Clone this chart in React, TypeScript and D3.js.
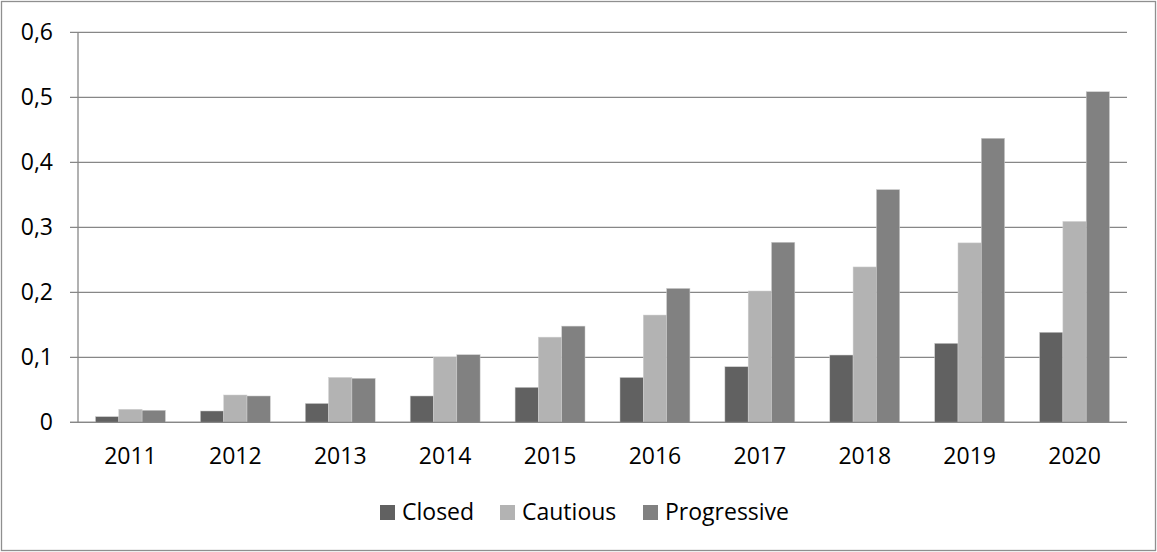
import React, { useEffect } from "react";
import * as d3 from "d3";

const years = ["2011", "2012", "2013", "2014", "2015", "2016", "2017", "2018", "2019", "2020"];
const closed = [0.0087, 0.0174, 0.029, 0.0405, 0.0538, 0.069, 0.0855, 0.1035, 0.1215, 0.1385];
const cautious = [0.02, 0.042, 0.069, 0.0994, 0.131, 0.165, 0.202, 0.239, 0.276, 0.309];
const progressive = [0.0185, 0.0405, 0.0677, 0.104, 0.148, 0.206, 0.277, 0.358, 0.437, 0.5086];
const yTicks = [0, 0.1, 0.2, 0.3, 0.4, 0.5, 0.6];
const seriesNames = ["Closed", "Cautious", "Progressive"];
const seriesColors = ["#616161", "#b3b3b3", "#818181"];

const W = 1157;
const H = 552;
const FONT = "'Open Sans', 'Noto Sans', sans-serif";

export default function App() {
  useEffect(() => {
    document.body.style.margin = "0";
  }, []);

  const left = 78;
  const right = 1127;
  const top = 32.3;
  const bottom = 422.3;

  const x = d3.scaleBand<string>().domain(years).range([left, right]).paddingInner(0).paddingOuter(0);
  const inner = d3
    .scaleBand<number>()
    .domain([0, 1, 2])
    .range([0, x.bandwidth()])
    .paddingOuter(0.75)
    .paddingInner(0);
  const y = d3.scaleLinear().domain([0, 0.6]).range([bottom, top]);
  const series = [closed, cautious, progressive];
  const fmt = (v: number) => (v === 0 ? "0" : d3.format(".1f")(v).replace(".", ","));

  const legendItems = [
    { sq: 380, tx: 402 },
    { sq: 500, tx: 522 },
    { sq: 643, tx: 665 },
  ];

  return (
    <svg width={W} height={H} style={{ display: "block" }} fontFamily={FONT}>
      <rect x={0} y={0} width={W} height={H} fill="#fff" />
      <rect x={1.5} y={1.5} width={W - 3} height={H - 3} fill="none" stroke="#8f8f8f" strokeWidth={1.3} />
      {yTicks.map((t) => (
        <g key={t}>
          <line x1={70} x2={right} y1={y(t)} y2={y(t)} stroke="#878787" strokeWidth={1.3} />
          <text x={53} y={y(t)} dy="0.35em" textAnchor="end" fontSize={23} fill="#000">
            {fmt(t)}
          </text>
        </g>
      ))}
      <line x1={left} x2={left} y1={top} y2={bottom} stroke="#878787" strokeWidth={1.3} />
      {years.map((yr, i) => (
        <g key={yr}>
          {series.map((s, k) => (
            <rect
              key={k}
              x={(x(yr) as number) + (inner(k) as number)}
              y={y(s[i])}
              width={inner.bandwidth()}
              height={bottom - y(s[i])}
              fill={seriesColors[k]}
              stroke="#d0d0d0"
              strokeWidth={0.5}
            />
          ))}
          <text
            x={(x(yr) as number) + x.bandwidth() / 2}
            y={464}
            textAnchor="middle"
            fontSize={23}
            fill="#000"
          >
            {yr}
          </text>
        </g>
      ))}
      <line x1={70} x2={right} y1={bottom} y2={bottom} stroke="#878787" strokeWidth={1.3} />
      {seriesNames.map((n, k) => (
        <g key={n}>
          <rect x={legendItems[k].sq} y={505} width={15} height={15} fill={seriesColors[k]} />
          <text x={legendItems[k].tx} y={520} fontSize={23} fill="#000">
            {n}
          </text>
        </g>
      ))}
    </svg>
  );
}
